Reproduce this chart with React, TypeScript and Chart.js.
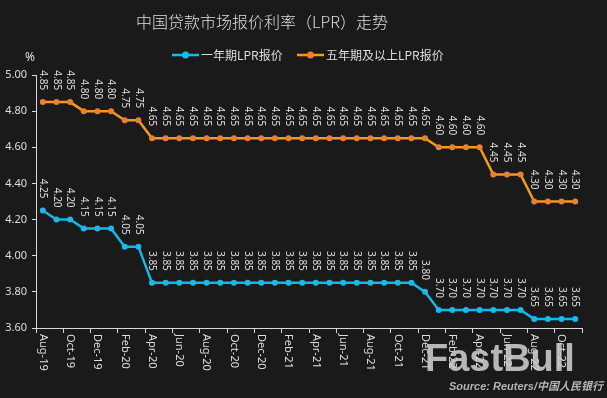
import React, { useEffect, useRef } from "react";
import { Chart, registerables } from "chart.js";

Chart.register(...registerables);

const titleText = "中国贷款市场报价利率（LPR）走势";
const seriesNames = ["一年期LPR报价", "五年期及以上LPR报价"];
const sourceText = "Source: Reuters/中国人民银行";
const watermarkText = "FastBull";
const unitText = "%";

const months = [
  "Aug-19", "Sep-19", "Oct-19", "Nov-19", "Dec-19",
  "Jan-20", "Feb-20", "Mar-20", "Apr-20", "May-20", "Jun-20", "Jul-20", "Aug-20", "Sep-20", "Oct-20", "Nov-20", "Dec-20",
  "Jan-21", "Feb-21", "Mar-21", "Apr-21", "May-21", "Jun-21", "Jul-21", "Aug-21", "Sep-21", "Oct-21", "Nov-21", "Dec-21",
  "Jan-22", "Feb-22", "Mar-22", "Apr-22", "May-22", "Jun-22", "Jul-22", "Aug-22", "Sep-22", "Oct-22", "Nov-22",
];

const oneYear = [
  4.25, 4.20, 4.20, 4.15, 4.15,
  4.15, 4.05, 4.05, 3.85, 3.85, 3.85, 3.85, 3.85, 3.85, 3.85, 3.85, 3.85,
  3.85, 3.85, 3.85, 3.85, 3.85, 3.85, 3.85, 3.85, 3.85, 3.85, 3.85, 3.80,
  3.70, 3.70, 3.70, 3.70, 3.70, 3.70, 3.70, 3.65, 3.65, 3.65, 3.65,
];

const fiveYear = [
  4.85, 4.85, 4.85, 4.80, 4.80,
  4.80, 4.75, 4.75, 4.65, 4.65, 4.65, 4.65, 4.65, 4.65, 4.65, 4.65, 4.65,
  4.65, 4.65, 4.65, 4.65, 4.65, 4.65, 4.65, 4.65, 4.65, 4.65, 4.65, 4.65,
  4.60, 4.60, 4.60, 4.60, 4.45, 4.45, 4.45, 4.30, 4.30, 4.30, 4.30,
];

const yMin = 3.6;
const yMax = 5.0;
const yStep = 0.2;

const BG = "#1a1a1a";
const TEXT = "#dedede";
const AXIS = "#d9d9d9";
const BLUE_LINE = "#19b6e6";
const BLUE_POINT = "#1ab9ea";
const ORANGE_LINE = "#f29b1c";
const ORANGE_POINT = "#ec7f33";
const LATIN = "'Noto Sans', 'Noto Sans CJK SC', sans-serif";
const CJK = "'Noto Sans CJK SC', 'Noto Sans', sans-serif";

const overlay = {
  id: "overlay",
  beforeDraw(chart: any) {
    const ctx = chart.ctx;
    ctx.save();
    ctx.fillStyle = BG;
    ctx.fillRect(0, 0, chart.width, chart.height);
    ctx.restore();
  },
  afterDatasetsDraw(chart: any) {
    const ctx = chart.ctx;
    ctx.save();
    ctx.fillStyle = TEXT;
    ctx.font = `10px ${LATIN}`;
    ctx.textAlign = "right";
    ctx.textBaseline = "middle";
    chart.data.datasets.forEach((ds: any, di: number) => {
      const meta = chart.getDatasetMeta(di);
      meta.data.forEach((pt: any, i: number) => {
        ctx.save();
        ctx.translate(pt.x, pt.y - 12);
        ctx.rotate(Math.PI / 2);
        ctx.fillText(Number(ds.data[i]).toFixed(2), 0, 0);
        ctx.restore();
      });
    });
    ctx.restore();
  },
  afterDraw(chart: any) {
    const ctx = chart.ctx;
    const xs = chart.scales.x;
    const area = chart.chartArea;
    ctx.save();

    // x tick labels, rotated clockwise
    ctx.fillStyle = TEXT;
    ctx.font = `11px ${LATIN}`;
    ctx.textAlign = "left";
    ctx.textBaseline = "middle";
    months.forEach((m, i) => {
      if (i % 2 !== 0) return;
      const x = xs.getPixelForValue(i);
      ctx.save();
      ctx.translate(x, area.bottom + 6);
      ctx.rotate(Math.PI / 2);
      ctx.fillText(m, 0, 0);
      ctx.restore();
    });

    // unit
    ctx.font = `12px ${LATIN}`;
    ctx.textAlign = "center";
    ctx.fillText(unitText, 30, 58);

    // title
    ctx.font = `300 16px ${CJK}`;
    ctx.fillStyle = TEXT;
    ctx.textAlign = "center";
    ctx.textBaseline = "middle";
    ctx.fillText(titleText, 262, 22);

    // legend
    const items = [
      { x: 172, line: chart.data.datasets[0].borderColor, pt: chart.data.datasets[0].pointBackgroundColor, text: chart.data.datasets[0].label },
      { x: 297, line: chart.data.datasets[1].borderColor, pt: chart.data.datasets[1].pointBackgroundColor, text: chart.data.datasets[1].label },
    ];
    const ly = 55;
    items.forEach((it) => {
      ctx.strokeStyle = it.line;
      ctx.lineWidth = 2.5;
      ctx.beginPath();
      ctx.moveTo(it.x, ly);
      ctx.lineTo(it.x + 27, ly);
      ctx.stroke();
      ctx.fillStyle = it.pt;
      ctx.beginPath();
      ctx.arc(it.x + 13.5, ly, 3.5, 0, Math.PI * 2);
      ctx.fill();
      ctx.fillStyle = TEXT;
      ctx.font = `12px ${CJK}`;
      ctx.textAlign = "left";
      ctx.textBaseline = "middle";
      ctx.fillText(it.text, it.x + 29, ly);
    });

    // watermark
    ctx.fillStyle = "rgba(205,205,205,0.88)";
    ctx.font = `bold 38px 'Liberation Sans', sans-serif`;
    ctx.textAlign = "left";
    ctx.textBaseline = "alphabetic";
    ctx.fillText(watermarkText, 425, 371);

    // source
    ctx.fillStyle = "#b4b4b4";
    ctx.font = `italic bold 11px 'Liberation Sans', 'Noto Sans CJK SC', sans-serif`;
    ctx.textAlign = "right";
    ctx.textBaseline = "middle";
    ctx.fillText(sourceText, 603, 387);

    ctx.restore();
  },
};

export default function App() {
  const ref = useRef<HTMLCanvasElement | null>(null);

  useEffect(() => {
    if (!ref.current) return;
    const chart = new Chart(ref.current, {
      type: "line",
      data: {
        labels: months,
        datasets: [
          {
            label: seriesNames[0],
            data: oneYear,
            borderColor: BLUE_LINE,
            backgroundColor: BLUE_POINT,
            pointBackgroundColor: BLUE_POINT,
            pointBorderColor: BLUE_POINT,
            borderWidth: 2.5,
            pointRadius: 3,
            pointBorderWidth: 0,
            tension: 0,
          },
          {
            label: seriesNames[1],
            data: fiveYear,
            borderColor: ORANGE_LINE,
            backgroundColor: ORANGE_POINT,
            pointBackgroundColor: ORANGE_POINT,
            pointBorderColor: ORANGE_POINT,
            borderWidth: 2.5,
            pointRadius: 3,
            pointBorderWidth: 0,
            tension: 0,
          },
        ],
      },
      options: {
        animation: false,
        responsive: false,
        maintainAspectRatio: false,
        devicePixelRatio: 1,
        layout: { padding: { top: 75, right: 25, left: 0, bottom: 0 } },
        plugins: {
          legend: { display: false },
          title: { display: false },
          tooltip: { enabled: false },
        },
        scales: {
          x: {
            type: "category",
            offset: true,
            afterFit: (s: any) => {
              s.height = 70;
            },
            ticks: { display: false },
            grid: {
              display: true,
              offset: true,
              drawOnChartArea: false,
              drawTicks: true,
              tickLength: 5,
              color: (c: any) =>
                c.index === undefined || c.index % 2 === 0 ? AXIS : "rgba(0,0,0,0)",
            },
            border: { display: true, color: AXIS, width: 1 },
          },
          y: {
            min: yMin,
            max: yMax,
            afterFit: (s: any) => {
              s.width = 36;
            },
            ticks: {
              stepSize: yStep,
              color: TEXT,
              font: { family: LATIN, size: 11 },
              padding: 5,
              callback: (v: any) => Number(v).toFixed(2),
            },
            grid: {
              display: true,
              drawOnChartArea: false,
              drawTicks: true,
              tickLength: 4,
              color: AXIS,
            },
            border: { display: true, color: AXIS, width: 1 },
          },
        },
      },
      plugins: [overlay],
    });
    return () => chart.destroy();
  }, []);

  return (
    <div style={{ position: "fixed", left: 0, top: 0, width: 607, height: 398, background: BG }}>
      <canvas ref={ref} width={607} height={398} style={{ display: "block", width: 607, height: 398 }} />
    </div>
  );
}
